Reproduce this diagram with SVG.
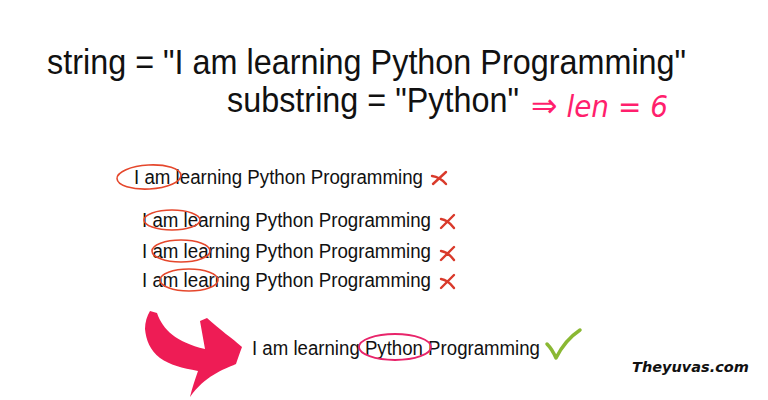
<svg xmlns="http://www.w3.org/2000/svg" width="768" height="400" viewBox="0 0 768 400">
<style>
.t{font-family:"Liberation Sans",Arial,sans-serif;fill:#111}
.big{font-size:35px}
.sm{font-size:20px}
.ov{fill:none;stroke:#e5472c;stroke-width:1.6}
.x{fill:none;stroke:#d93a2b;stroke-width:2.4;stroke-linecap:round}
</style>
<rect width="768" height="400" fill="#fff"/>
<g id="title">
<text class="t big" transform="translate(47 74) scale(0.925 1)" x="0" y="0">string = "I am learning Python Programming"</text>
<text class="t big" transform="translate(227 112) scale(0.925 1)" x="0" y="0">substring = "Python"</text>
<text x="531" y="117" font-family="'DejaVu Sans',sans-serif" font-style="italic" font-size="30" fill="#ff1f6d" textLength="137" lengthAdjust="spacingAndGlyphs"><tspan font-size="34">⇒</tspan> len = 6</text>
</g>
<g id="try1">
<text class="t sm" x="134" y="184" textLength="289" lengthAdjust="spacingAndGlyphs">I am learning Python Programming</text>
<ellipse class="ov" cx="149" cy="177" rx="32" ry="12" transform="rotate(-3 149 177)"/>
<path class="x" d="M433 184 L446 172 M432 176 Q440 177 446 184"/>
</g>
<g id="try2">
<text class="t sm" x="142" y="227" textLength="289" lengthAdjust="spacingAndGlyphs">I am learning Python Programming</text>
<ellipse class="ov" cx="172" cy="220" rx="28" ry="10"/>
<path class="x" d="M441 228 L454 215 M441 219 Q448 220 454 228"/>
</g>
<g id="try3">
<text class="t sm" x="142" y="258" textLength="289" lengthAdjust="spacingAndGlyphs">I am learning Python Programming</text>
<ellipse class="ov" cx="181" cy="251" rx="29" ry="11"/>
<path class="x" d="M441 260 L454 247 M441 251 Q448 252 454 260"/>
</g>
<g id="try4">
<text class="t sm" x="142" y="287" textLength="289" lengthAdjust="spacingAndGlyphs">I am learning Python Programming</text>
<ellipse class="ov" cx="189" cy="280" rx="29" ry="11"/>
<path class="x" d="M441 288 L454 275 M441 279 Q448 280 454 288"/>
</g>
<g id="match">
<path d="M150 311 L157 313 C163 330 176 342 205 349 L200 321 L207 318 C220 330 232 338 242 347 C240 352 238 358 236 364 C222 370 205 376 190 397 C192 388 195 380 198 371 C182 368 170 365 160 358 C150 350 146 340 145 329 C145 322 147 316 150 311 Z" fill="#ee1c55"/>
<text class="t sm" x="252" y="355" textLength="288" lengthAdjust="spacingAndGlyphs">I am learning Python Programming</text>
<ellipse cx="395" cy="347" rx="36" ry="13" fill="none" stroke="#e8246a" stroke-width="1.8"/>
<path d="M547 344 Q552 349 556 358 Q565 340 580 330" fill="none" stroke="#8ab833" stroke-width="3.5" stroke-linecap="round" stroke-linejoin="round"/>
</g>
<g id="watermark">
<text x="632" y="372" font-family="'DejaVu Sans',sans-serif" font-style="italic" font-weight="bold" font-size="14.5" fill="#111">Theyuvas.com</text>
</g>
</svg>
